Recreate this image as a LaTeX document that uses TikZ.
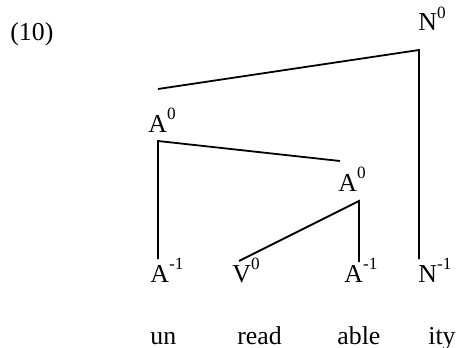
\documentclass[tikz,border=0pt]{standalone}
\usepackage{fontspec}
\setmainfont{Liberation Serif}
\usepackage{graphicx}
\usetikzlibrary{positioning}
\newcommand{\lv}[2]{#1\raisebox{0.5em}{\fontsize{8.6}{9}\selectfont #2}}

\begin{document}
\begin{tikzpicture}[x=0.5pt, y=-0.5pt,
  lbl/.style={anchor=base west, inner sep=0pt, font=\fontsize{12.9}{15}\selectfont},
  br/.style={line width=0.9pt}]
\useasboundingbox (0,0) rectangle (456,348);
\node[lbl] (ex) at (10,40) {(10)};
\node[lbl] (n0) at (418,31) {\lv{N}{0}};
\node[lbl] (a0) at (148,132) {\lv{A}{0}};
\node[lbl] (a0b) at (338,191) {\lv{A}{0}};
\node[lbl] (am1) at (150,282) {\lv{A}{-1}};
\node[lbl] (v0) at (232,282) {\lv{V}{0}};
\node[lbl] (am1b) at (344,282) {\lv{A}{-1}};
\node[lbl] (nm1) at (418,282) {\lv{N}{-1}};
\node[lbl] (un) at (150,344) {un};
\node[lbl] (read) at (237,344) {read};
\node[lbl] (able) at (337,344) {able};
\node[lbl] (ity) at (428,344) {ity};
\coordinate (n0j) at (419,50);
\coordinate (a0up) at (158,89);
\coordinate (a0j) at (158,141);
\coordinate (a0bup) at (340,161);
\coordinate (a0bj) at (359,201);
\coordinate (am1up) at (158,259);
\coordinate (v0up) at (239,261);
\coordinate (am1bup) at (359,262);
\coordinate (nm1up) at (419,259);
\draw[br] (a0up) -- (n0j) -- (nm1up);
\draw[br] (am1up) -- (a0j) -- (a0bup);
\draw[br] (v0up) -- (a0bj) -- (am1bup);
\end{tikzpicture}
\end{document}
